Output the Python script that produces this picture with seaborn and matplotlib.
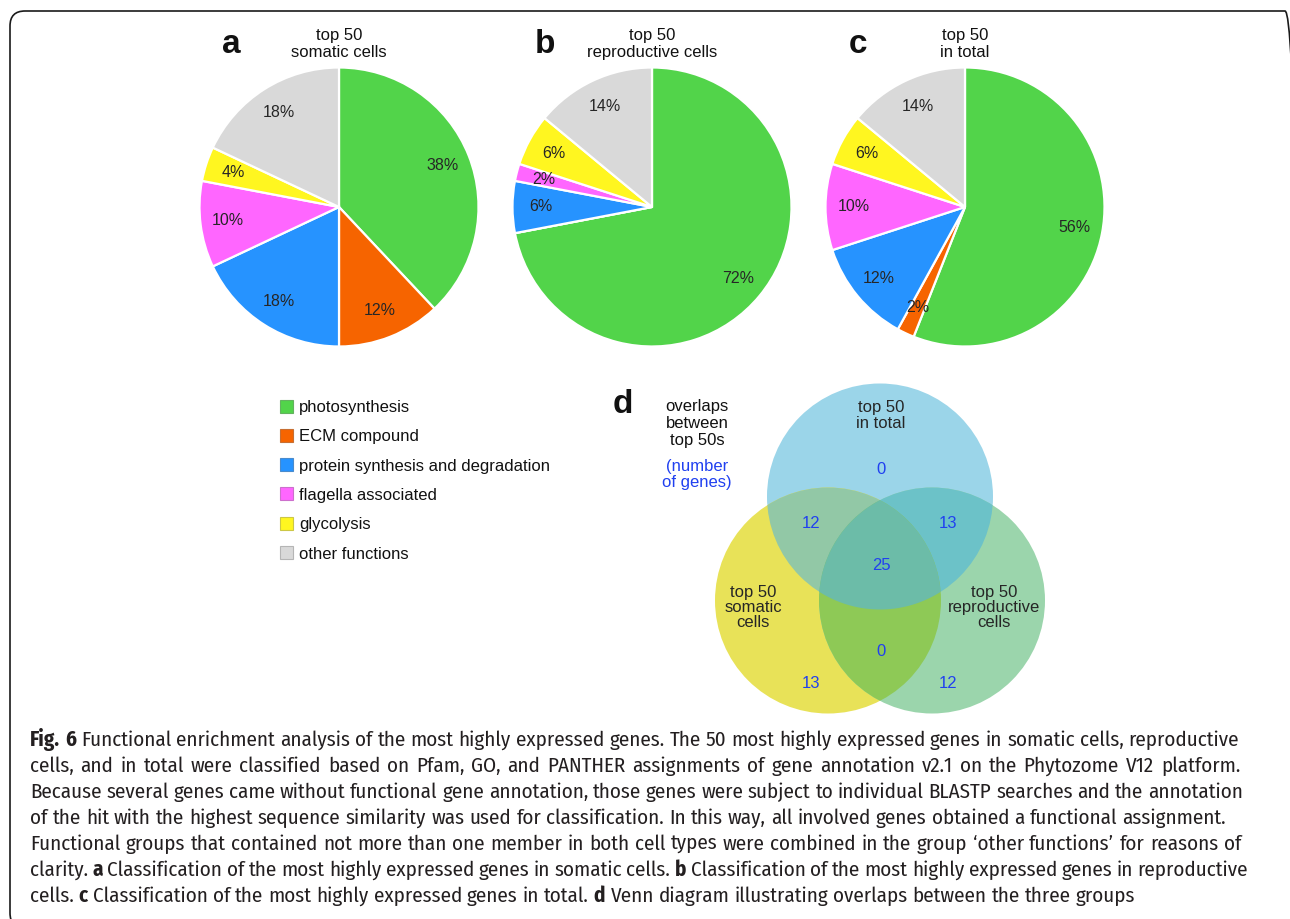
import re
import numpy as np
import matplotlib
matplotlib.use("Agg")
import matplotlib.pyplot as plt
from matplotlib.patches import Circle, Polygon, Rectangle, FancyBboxPatch
from matplotlib.font_manager import FontProperties, fontManager
from matplotlib.colors import to_rgb
import seaborn as sns

# ---------------------------------------------------------------- data
categories = ["photosynthesis", "ECM compound", "protein synthesis and degradation",
              "flagella associated", "glycolysis", "other functions"]
category_colors = ["#52D44A", "#F66400", "#2693FF", "#FF66FF", "#FFF620", "#D9D9D9"]

# share of the top-50 genes per functional group (%)
somatic = [38, 12, 18, 10, 4, 18]
reproductive = [72, 0, 6, 2, 6, 14]
in_total = [56, 2, 12, 10, 6, 14]

pie_titles = [["top 50", "somatic cells"],
              ["top 50", "reproductive cells"],
              ["top 50", "in total"]]
panel_letters = ["a", "b", "c", "d"]

# Venn diagram: set names and gene counts per region
venn_set_labels = [["top 50", "in total"],
                   ["top 50", "somatic", "cells"],
                   ["top 50", "reproductive", "cells"]]
venn_regions = ["T", "S", "R", "TS", "TR", "SR", "TSR"]
venn_counts = [0, 13, 12, 12, 13, 0, 25]

caption_lines = [
    "**Fig. 6** Functional enrichment analysis of the most highly expressed genes. The 50 most highly expressed genes in somatic cells, reproductive",
    "cells, and in total were classified based on Pfam, GO, and PANTHER assignments of gene annotation v2.1 on the Phytozome V12 platform.",
    "Because several genes came without functional gene annotation, those genes were subject to individual BLASTP searches and the annotation",
    "of the hit with the highest sequence similarity was used for classification. In this way, all involved genes obtained a functional assignment.",
    "Functional groups that contained not more than one member in both cell types were combined in the group \u2018other functions\u2019 for reasons of",
    "clarity. **a** Classification of the most highly expressed genes in somatic cells. **b** Classification of the most highly expressed genes in reproductive",
    "cells. **c** Classification of the most highly expressed genes in total. **d** Venn diagram illustrating overlaps between the three groups",
]

# ---------------------------------------------------------------- style
sns.set_theme(style="white")
plt.rcParams["font.family"] = ["Liberation Sans", "DejaVu Sans"]


def _weight(w):
    if isinstance(w, (int, float)):
        return int(w)
    return {"normal": 400, "regular": 400, "book": 400, "medium": 500,
            "semibold": 600, "demibold": 600, "bold": 700, "heavy": 800,
            "black": 900, "light": 300}.get(str(w).lower(), 400)


def usable(name):
    ws = {_weight(f.weight) for f in fontManager.ttflist
          if f.name == name and f.style == "normal"}
    return any(350 <= w <= 450 for w in ws) and any(w >= 600 for w in ws)


CAP_FONT = next((n for n in ["Open Sans Condensed", "Fira Sans Condensed",
                             "Roboto Condensed", "Open Sans"] if usable(n)), "DejaVu Sans")

W, H = 1290, 919
fig = plt.figure(figsize=(W / 100, H / 100), dpi=100)
ax = fig.add_axes([0, 0, 1, 1])


def Y(yp):
    """pixel row (top-down) -> axis y (bottom-up)"""
    return H - yp


TXT = "#262626"

# ---------------------------------------------------------------- pies
pie_data = [somatic, reproductive, in_total]
pie_cx = [339, 652, 965]
pie_cy = 207
pie_r = 139.5
letter_x = [231, 545, 858]

for vals, cx, title, letter, lx in zip(pie_data, pie_cx, pie_titles, panel_letters, letter_x):
    ax.pie(vals, colors=category_colors, startangle=90, counterclock=False,
           center=(cx, Y(pie_cy)), radius=pie_r, frame=True,
           autopct=lambda p: f"{p:.0f}%" if p > 0.5 else "",
           pctdistance=0.8,
           wedgeprops=dict(edgecolor="white", linewidth=1.6),
           textprops=dict(fontsize=11.5, color=TXT))
    for i, line in enumerate(title):
        ax.text(cx, Y(40 + i * 17), line, ha="center", va="baseline",
                fontsize=12, color="#111111")
    ax.text(lx, Y(53), letter, ha="center", va="baseline", fontsize=24,
            fontweight="bold", color="#111111")

# ---------------------------------------------------------------- legend
leg_x, leg_y0, leg_dy = 286, 406, 29.3
for i, (cat, col) in enumerate(zip(categories, category_colors)):
    yc = leg_y0 + i * leg_dy
    edge = tuple(np.array(to_rgb(col)) * 0.6 + 0.2)
    ax.add_patch(Rectangle((leg_x - 6.5, Y(yc) - 6.5), 13, 13, facecolor=col,
                           edgecolor=edge, linewidth=0.8))
    ax.text(leg_x + 13, Y(yc + 6.2), cat, ha="left", va="baseline",
            fontsize=12, color="#111111")

# ---------------------------------------------------------------- Venn
vr = 113
vc = {"T": np.array([880.0, Y(496.5)]),
      "S": np.array([828.0, Y(600.5)]),
      "R": np.array([932.0, Y(600.5)])}
region_color = {"T": "#9BD5E9", "S": "#E8E258", "R": "#9BD5AC",
                "TS": "#92C8A6", "TR": "#6CC2C8", "SR": "#8EC956", "TSR": "#6CBCA8"}

for k in ["T", "S", "R"]:
    ax.add_patch(Circle(vc[k], vr, facecolor=region_color[k], edgecolor="none", zorder=2))
for a, b in [("T", "S"), ("T", "R"), ("S", "R")]:
    p = Circle(vc[a], vr, facecolor=region_color[a + b], edgecolor="none", zorder=3)
    ax.add_patch(p)
    p.set_clip_path(Circle(vc[b], vr, transform=ax.transData))

theta = np.linspace(0, 2 * np.pi, 1440, endpoint=False)
ring = np.column_stack([np.cos(theta), np.sin(theta)]) * vr
pts = []
for k in ["T", "S", "R"]:
    p = vc[k] + ring
    keep = np.ones(len(p), bool)
    for o in ["T", "S", "R"]:
        if o != k:
            keep &= ((p - vc[o]) ** 2).sum(1) <= vr ** 2 + 1e-6
    pts.append(p[keep])
P = np.vstack(pts)
m = P.mean(0)
P = P[np.argsort(np.arctan2(P[:, 1] - m[1], P[:, 0] - m[0]))]
ax.add_patch(Polygon(P, closed=True, facecolor=region_color["TSR"], edgecolor="none", zorder=4))

NUM = "#2040F0"
count_pos = {"T": (881, 469), "S": (811, 683), "R": (948, 683),
             "TS": (811, 523), "TR": (948, 523), "SR": (881, 651), "TSR": (881, 565)}
for reg, n in zip(venn_regions, venn_counts):
    x, y = count_pos[reg]
    ax.text(x, Y(y), str(n), ha="center", va="center", fontsize=12, color=NUM, zorder=6)

set_label_pos = [(881, 412, 16), (753, 597, 15), (994, 597, 15)]
for lines, (x, y0, dy) in zip(venn_set_labels, set_label_pos):
    for i, s in enumerate(lines):
        ax.text(x, Y(y0 + i * dy), s, ha="center", va="baseline", fontsize=12,
                color=TXT, zorder=6)

for i, s in enumerate(["overlaps", "between", "top 50s"]):
    ax.text(697, Y(411.5 + i * 16.5), s, ha="center", va="baseline", fontsize=12, color="#111111")
for i, s in enumerate(["(number", "of genes)"]):
    ax.text(697, Y(471.5 + i * 16), s, ha="center", va="baseline", fontsize=12, color=NUM)
ax.text(623, Y(413), panel_letters[3], ha="center", va="baseline", fontsize=24,
        fontweight="bold", color="#111111")

# ---------------------------------------------------------------- frame
ax.add_patch(FancyBboxPatch((10, Y(928)), 1290, 917,
                            boxstyle="round,pad=0,rounding_size=15",
                            fill=False, edgecolor="#1a1a1a", linewidth=1.2, zorder=10))

ax.set_xlim(0, W)
ax.set_ylim(0, H)
ax.set_aspect("equal")
ax.axis("off")

# ---------------------------------------------------------------- caption
fig.canvas.draw()
renderer = fig.canvas.get_renderer()


def words_of(line):
    out = []
    for seg in re.split(r"(\*\*.*?\*\*)", line):
        if not seg:
            continue
        bold = seg.startswith("**")
        for w in seg.strip("*").split():
            out.append((w, bold))
    return out


def text_w(s, bold, size):
    fp = FontProperties(family=CAP_FONT, size=size, weight="bold" if bold else "normal")
    return renderer.get_text_width_height_descent(s, fp, ismath=False)[0]


cap_left = 30
cap_right = [1239, 1240, 1243, 1226, 1241, 1248]
cap_base0, cap_dy = 746, 26

line_words = [words_of(l) for l in caption_lines]
s0 = 12.0
sp0 = text_w("a a", False, s0) - text_w("aa", False, s0)
nat = [sum(text_w(w, b, s0) for w, b in ws) + (len(ws) - 1) * sp0
       for ws in line_words[:len(cap_right)]]
cap_size = s0 * np.mean(np.array(cap_right) - cap_left) / np.mean(nat)
space = text_w("a a", False, cap_size) - text_w("aa", False, cap_size)

for i, ws in enumerate(line_words):
    widths = [text_w(w, b, cap_size) for w, b in ws]
    if i < len(cap_right):
        gap = (cap_right[i] - cap_left - sum(widths)) / (len(ws) - 1)
    else:
        gap = space
    x = cap_left
    for (w, b), wd in zip(ws, widths):
        ax.text(x, Y(cap_base0 + i * cap_dy), w, ha="left", va="baseline",
                fontsize=cap_size, family=CAP_FONT,
                fontweight="bold" if b else "normal", color="#231F20")
        x += wd + gap

fig.savefig("out.png", dpi=100)
